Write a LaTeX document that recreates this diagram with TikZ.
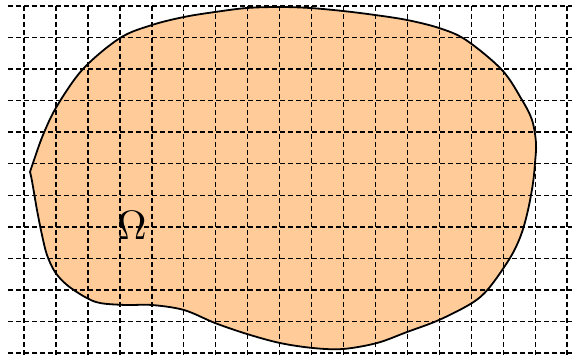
\documentclass[tikz,border=0pt]{standalone}
\usepackage{tikz}
\usepackage{xcolor}
\definecolor{domainfill}{RGB}{255,204,153}

\tikzset{
    gridline/.style={dash pattern=on 5pt off 3pt, line width=1.4pt},
    domainline/.style={line width=1.8pt, line join=round}
}

\begin{document}
\begin{tikzpicture}[x=1pt, y=-1pt]
        	\useasboundingbox (0, 0) rectangle (572, 355);
        	% Domain:
        	\fill[domainfill] plot[smooth, tension=0.55] coordinates {(30, 172) (33, 163) (43, 135) (57, 106) (83, 69) (120, 38) (152, 25) (184, 17) (215, 12) (247, 8) (280, 7) (310, 8) (343, 11) (375, 15) (407, 20) (439, 28) (466, 40) (502, 70) (522, 100) (532, 120) (536, 143) (535, 163) (533, 183) (528, 210) (521, 235) (510, 258) (489, 288) (472, 303) (439, 320) (407, 332) (377, 343) (343, 349) (313, 348) (280, 343) (247, 334) (215, 323) (184, 310) (152, 305) (126, 305) (100, 303) (85, 297) (67, 285) (55, 272) (47, 255) (42, 235) (37, 210) (32, 181) (30, 172)} -- cycle;
        	% Grid, rows:
        	\draw[gridline] (8, 6) -- (572, 6);
        	\draw[gridline] (8, 37.55) -- (572, 37.55);
        	\draw[gridline] (8, 69.1) -- (572, 69.1);
        	\draw[gridline] (8, 100.65) -- (572, 100.65);
        	\draw[gridline] (8, 132.2) -- (572, 132.2);
        	\draw[gridline] (8, 163.75) -- (572, 163.75);
        	\draw[gridline] (8, 195.3) -- (572, 195.3);
        	\draw[gridline] (8, 226.85) -- (572, 226.85);
        	\draw[gridline] (8, 258.4) -- (572, 258.4);
        	\draw[gridline] (8, 289.95) -- (572, 289.95);
        	\draw[gridline] (8, 321.5) -- (572, 321.5);
        	\draw[gridline] (8, 353.05) -- (572, 353.05);
        	% Grid, columns:
        	\draw[gridline] (24, 6) -- (24, 355);
        	\draw[gridline] (55.95, 6) -- (55.95, 355);
        	\draw[gridline] (87.9, 6) -- (87.9, 355);
        	\draw[gridline] (119.85, 6) -- (119.85, 355);
        	\draw[gridline] (151.8, 6) -- (151.8, 355);
        	\draw[gridline] (183.75, 6) -- (183.75, 355);
        	\draw[gridline] (215.7, 6) -- (215.7, 355);
        	\draw[gridline] (247.65, 6) -- (247.65, 355);
        	\draw[gridline] (279.6, 6) -- (279.6, 355);
        	\draw[gridline] (311.55, 6) -- (311.55, 355);
        	\draw[gridline] (343.5, 6) -- (343.5, 355);
        	\draw[gridline] (375.45, 6) -- (375.45, 355);
        	\draw[gridline] (407.4, 6) -- (407.4, 355);
        	\draw[gridline] (439.35, 6) -- (439.35, 355);
        	\draw[gridline] (471.3, 6) -- (471.3, 355);
        	\draw[gridline] (503.25, 6) -- (503.25, 355);
        	\draw[gridline] (535.2, 6) -- (535.2, 355);
        	\draw[gridline] (567.15, 6) -- (567.15, 355);
        	% Boundary:
        	\draw[domainline] plot[smooth, tension=0.55] coordinates {(30, 172) (33, 163) (43, 135) (57, 106) (83, 69) (120, 38) (152, 25) (184, 17) (215, 12) (247, 8) (280, 7) (310, 8) (343, 11) (375, 15) (407, 20) (439, 28) (466, 40) (502, 70) (522, 100) (532, 120) (536, 143) (535, 163) (533, 183) (528, 210) (521, 235) (510, 258) (489, 288) (472, 303) (439, 320) (407, 332) (377, 343) (343, 349) (313, 348) (280, 343) (247, 334) (215, 323) (184, 310) (152, 305) (126, 305) (100, 303) (85, 297) (67, 285) (55, 272) (47, 255) (42, 235) (37, 210) (32, 181) (30, 172)} -- cycle;
        	\node[inner sep=0pt, scale=4.1](omega) at (132, 225){$\Omega$};
\end{tikzpicture}
\end{document}
